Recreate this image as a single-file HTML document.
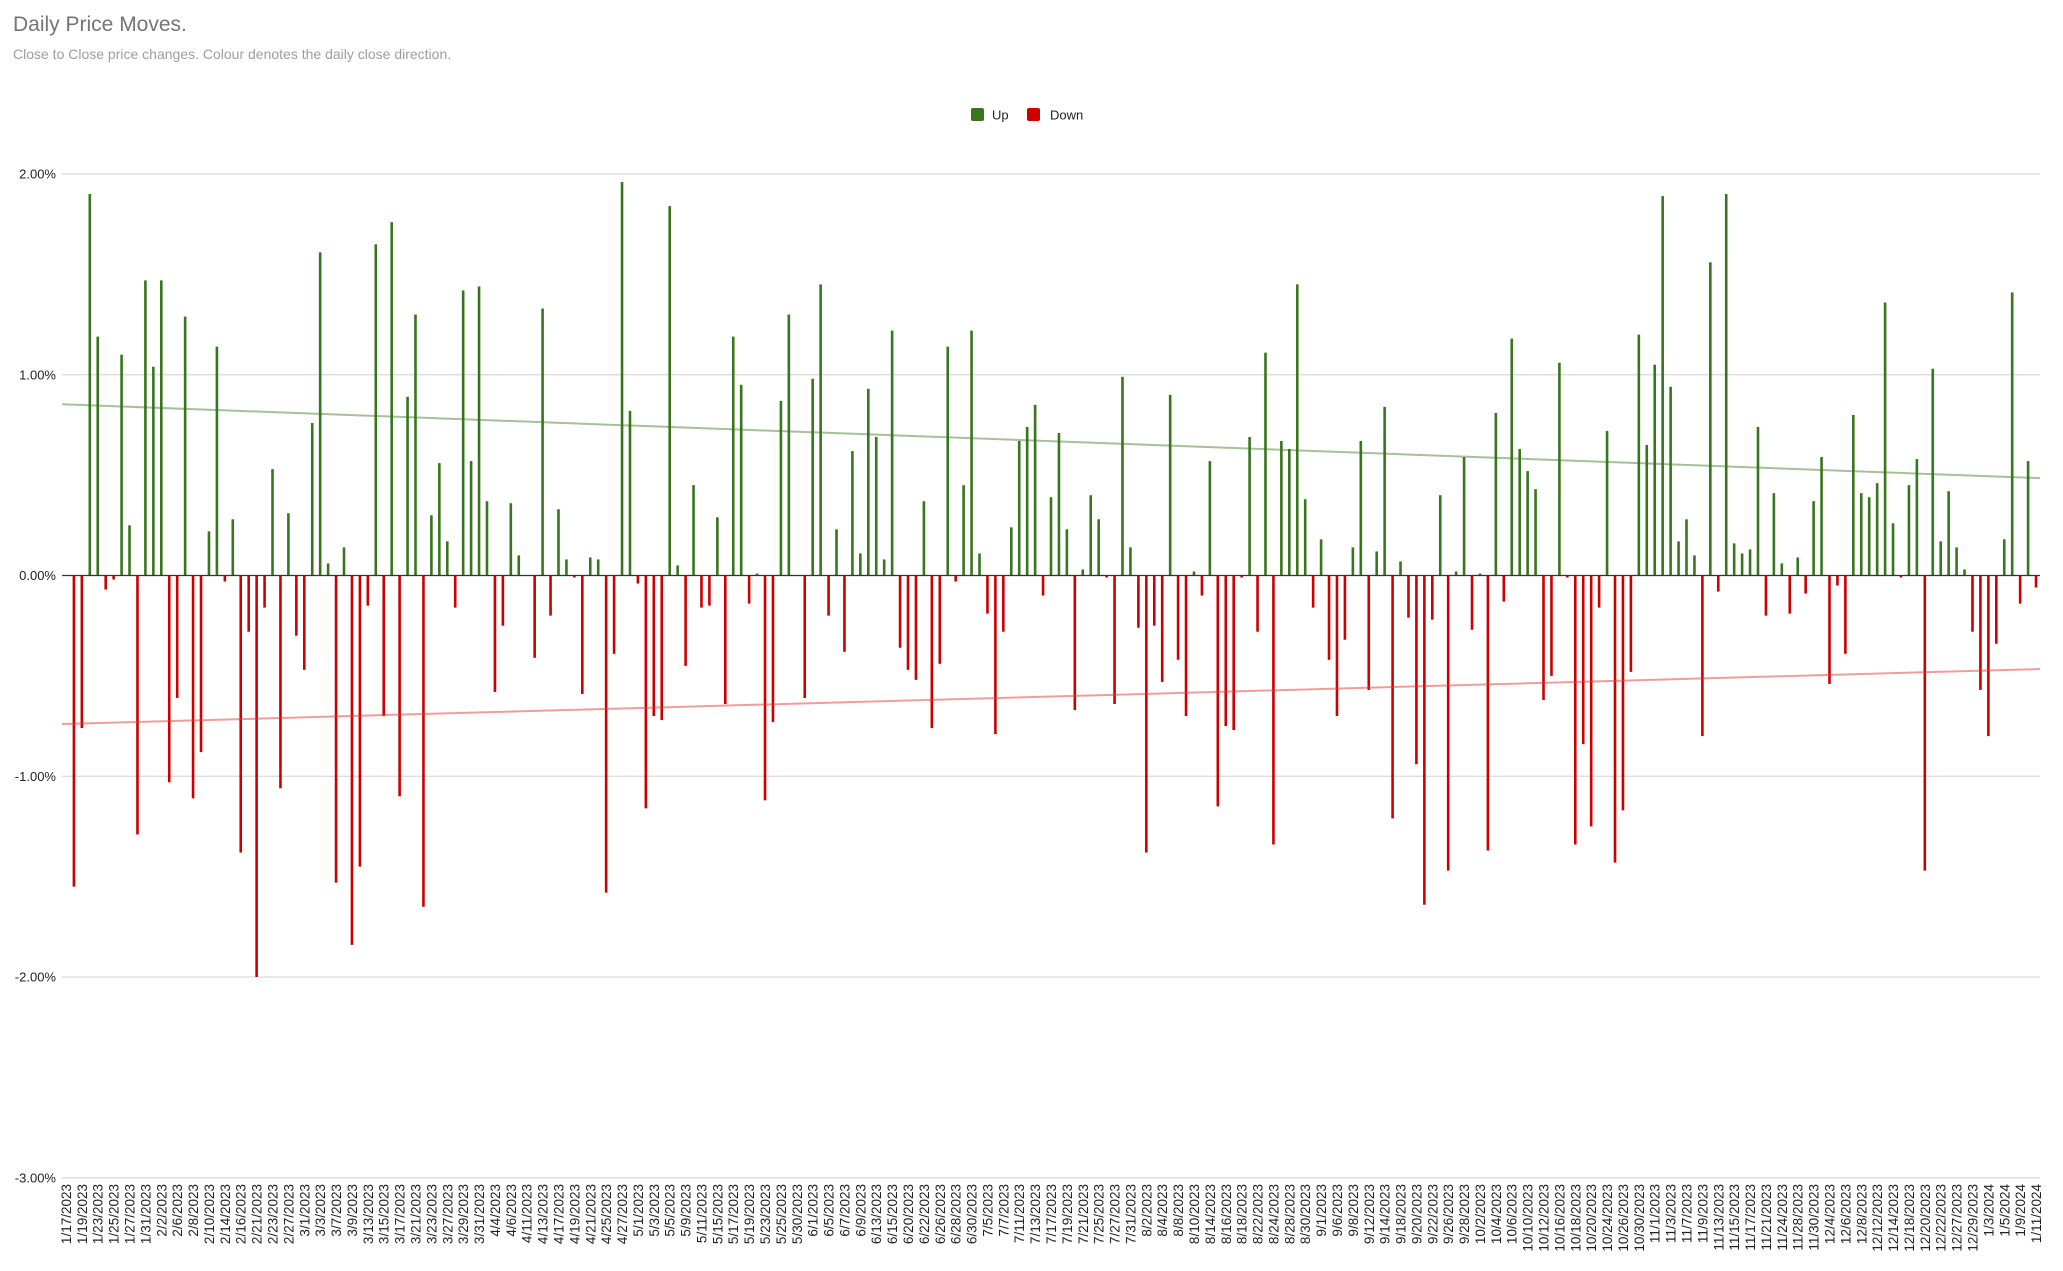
<!DOCTYPE html>
<html><head><meta charset="utf-8"><title>Daily Price Moves</title>
<style>
html,body{margin:0;padding:0;background:#fff;width:2063px;height:1271px;overflow:hidden;font-family:"Liberation Sans",Arial,sans-serif;}
#title{position:absolute;left:13px;top:13px;font-size:21px;color:#757575;margin:0;font-weight:normal;}
#subtitle{position:absolute;left:13px;top:46px;font-size:14px;color:#9e9e9e;margin:0;}
svg{position:absolute;left:0;top:0;}
</style></head>
<body>
<h1 id="title">Daily Price Moves.</h1>
<p id="subtitle">Close to Close price changes. Colour denotes the daily close direction.</p>
<svg id="chart" width="2063" height="1271" xmlns="http://www.w3.org/2000/svg">
  <g>
    <g>
      <rect x="971" y="108" width="13" height="13" rx="2" fill="#38761d"></rect>
      <text x="992" y="119.5" font-size="13" fill="#222">Up</text>
    </g>
    <g>
      <rect x="1027" y="108" width="13" height="13" rx="2" fill="#cc0000"></rect>
      <text x="1050" y="119.5" font-size="13" fill="#222">Down</text>
    </g>
  </g>
</svg>
<script>
// ---- data ----
const startDate = "2023-01-17";
const endDate = "2024-01-11";
const holidays = ["2023-02-20","2023-04-07","2023-05-29","2023-06-19","2023-07-04","2023-09-04","2023-11-23","2023-12-25","2024-01-01"];
const dailyMoves = [0,
-1.55,-0.76,1.90,1.19,-0.07,-0.02,1.10,0.25,-1.29,1.47,1.04,1.47,-1.03,-0.61,1.29,-1.11,-0.88,0.22,1.14,-0.03,0.28,-1.38,-0.28,-2.00,-0.16,0.53,-1.06,0.31,-0.30,-0.47,0.76,
1.61,0.06,-1.53,0.14,-1.84,-1.45,-0.15,1.65,-0.70,1.76,-1.10,0.89,1.30,-1.65,0.30,0.56,0.17,-0.16,1.42,0.57,1.44,0.37,-0.58,-0.25,0.36,0.10,0,-0.41,1.33,-0.20,
0.33,0.08,-0.01,-0.59,0.09,0.08,-1.58,-0.39,1.96,0.82,-0.04,-1.16,-0.70,-0.72,1.84,0.05,-0.45,0.45,-0.16,-0.15,0.29,-0.64,1.19,0.95,-0.14,0.01,-1.12,-0.73,0.87,1.30,
0,-0.61,0.98,1.45,-0.20,0.23,-0.38,0.62,0.11,0.93,0.69,0.08,1.22,-0.36,-0.47,-0.52,0.37,-0.76,-0.44,1.14,-0.03,0.45,1.22,0.11,-0.19,-0.79,-0.28,0.24,0.67,0.74,0.85,
-0.10,0.39,0.71,0.23,-0.67,0.03,0.40,0.28,-0.01,-0.64,0.99,0.14,-0.26,-1.38,-0.25,-0.53,0.90,-0.42,-0.70,0.02,-0.10,0.57,-1.15,-0.75,-0.77,-0.01,0.69,-0.28,1.11,-1.34,0.67,
0.63,1.45,0.38,-0.16,0.18,-0.42,-0.70,-0.32,0.14,0.67,-0.57,0.12,0.84,-1.21,0.07,-0.21,-0.94,-1.64,-0.22,0.40,-1.47,0.02,0.59,-0.27,0.01,-1.37,0.81,-0.13,1.18,0.63,0.52,
0.43,-0.62,-0.50,1.06,-0.01,-1.34,-0.84,-1.25,-0.16,0.72,-1.43,-1.17,-0.48,1.20,0.65,1.05,1.89,0.94,0.17,0.28,0.10,-0.80,1.56,-0.08,1.90,0.16,0.11,0.13,0.74,-0.20,
0.41,0.06,-0.19,0.09,-0.09,0.37,0.59,-0.54,-0.05,-0.39,0.80,0.41,0.39,0.46,1.36,0.26,-0.01,0.45,0.58,-1.47,1.03,0.17,0.42,0.14,0.03,-0.28,-0.57,-0.80,-0.34,0.18,1.41,-0.14,0.57,-0.06];
const yTicks = [2, 1, 0, -1, -2, -3];
const yTickLabels = ["2.00%","1.00%","0.00%","-1.00%","-2.00%","-3.00%"];
const upTrend = [0.853, 0.485];
const downTrend = [-0.74, -0.466];

// ---- categories (trading days) ----
const categories = [];
(function(){
  let d = new Date(startDate + "T12:00:00Z");
  const end = new Date(endDate + "T12:00:00Z");
  while (d <= end) {
    const iso = d.toISOString().slice(0,10);
    const wd = d.getUTCDay();
    if (wd !== 0 && wd !== 6 && holidays.indexOf(iso) < 0) {
      categories.push((d.getUTCMonth()+1) + "/" + d.getUTCDate() + "/" + d.getUTCFullYear());
    }
    d = new Date(d.getTime() + 86400000);
  }
})();

// ---- axes ----
const plotLeft = 62, plotRight = 2040;
const yTop = 174, yZero = 575.5, pxPerPct = 200.75;
function y(v){ return yZero - v * pxPerPct; }
const n = dailyMoves.length;
const band = (plotRight - plotLeft) / n;
function x(i){ return plotLeft + (i + 0.5) * band; }

const NS = "http://www.w3.org/2000/svg";
const svg = document.getElementById("chart");
function mk(tag, attrs, parent){
  const e = document.createElementNS(NS, tag);
  for (const k in attrs) e.setAttribute(k, attrs[k]);
  (parent || svg).appendChild(e);
  return e;
}

// gridlines + y labels
const gridG = mk("g", {});


yTicks.forEach(function(t, k){
  if (t !== 0) {
    const ln = mk("line", {x1: plotLeft, x2: plotRight, y1: y(t), y2: y(t), stroke: "#d9d9d9", "stroke-width": 1.3}, gridG);
    
    
  }
  const tx = mk("text", {x: 56, y: y(t) + 4.5, "text-anchor": "end", "font-size": 13, fill: "#222"});
  tx.textContent = yTickLabels[k];
  
  
});

// bars
const barsG = mk("g", {});


dailyMoves.forEach(function(v, i){
  if (v === 0) return;
  const up = v > 0;
  const r = mk("rect", {
    x: x(i) - 1.3, width: 2.6,
    y: Math.min(y(v), y(0)), height: Math.abs(y(v) - y(0)),
    fill: up ? "#38761d" : "#cc0000"
  }, barsG);
  
  
});

// zero line
const zl = mk("line", {x1: plotLeft, x2: plotRight, y1: y(0), y2: y(0), stroke: "#333", "stroke-width": 1.3});



// trend lines
const tu = mk("line", {x1: plotLeft, x2: plotRight, y1: y(upTrend[0]), y2: y(upTrend[1]), stroke: "#38761d", "stroke-opacity": 0.45, "stroke-width": 2});


const td = mk("line", {x1: plotLeft, x2: plotRight, y1: y(downTrend[0]), y2: y(downTrend[1]), stroke: "#e53935", "stroke-opacity": 0.5, "stroke-width": 2});



// x labels
const xG = mk("g", {});


categories.forEach(function(c, i){
  if (i % 2 !== 0) return;
  const px = x(i) + 5, py = 1184;
  const t = mk("text", {x: px, y: py, "text-anchor": "end", "font-size": 13.5, fill: "#222", transform: "rotate(-90 " + px + " " + py + ")"}, xG);
  t.textContent = c;
  
  
});
</script>
</body></html>
